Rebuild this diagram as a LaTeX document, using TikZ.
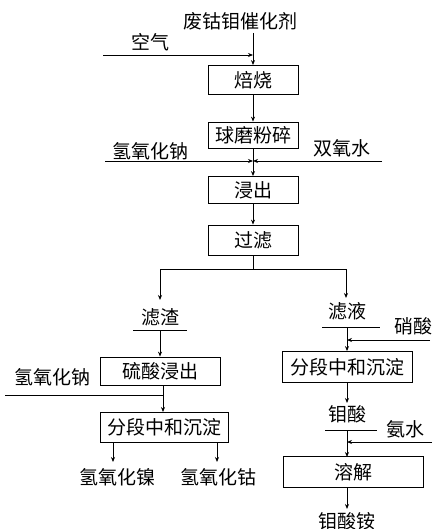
\documentclass[tikz,border=0pt]{standalone}
\usepackage{fontspec}
\setmainfont{Noto Sans CJK SC}
\usetikzlibrary{arrows.meta}
\begin{document}
\begin{tikzpicture}[x=1pt,y=-1pt,
  line width=0.8pt,
  >={Stealth[length=5pt,width=4pt]},
  pbox/.style={draw,minimum height=28pt,inner sep=0pt,font=\fontsize{19}{19}\selectfont},
  lbl/.style={inner sep=0pt,font=\fontsize{19}{19}\selectfont}]
\useasboundingbox (0,0) rectangle (432,529);
% main column
\node[lbl] (feed) at (240,21) {废钴钼催化剂};
\coordinate (feedB) at (253,33);
\node[lbl] (air) at (150,42) {空气};
\coordinate (airS) at (103,55);
\coordinate (airJ) at (253,55);
\node[pbox,minimum width=90pt,minimum height=29pt] (roast) at (253,80) {焙烧};
\node[pbox,minimum width=90pt,minimum height=26pt] (mill) at (253,135) {球磨粉碎};
\node[lbl] (naoh1) at (150,151) {氢氧化钠};
\node[lbl] (h2o2) at (342,148) {双氧水};
\coordinate (naohS) at (105,161);
\coordinate (h2o2S) at (382,161);
\coordinate (leachJ) at (253,161);
\node[pbox,minimum width=90pt,minimum height=27pt] (leach) at (253,190) {浸出};
\node[pbox,minimum width=90pt,minimum height=30pt] (filt) at (253,240) {过滤};
\coordinate (split) at (253,269);
\coordinate (splitL) at (160,269);
\coordinate (splitR) at (346,269);
\coordinate (resT) at (160,300);
\coordinate (filtrT) at (346,298);
% left branch
\node[lbl] (res) at (160,317) {滤渣};
\coordinate (resUL) at (133,330);
\coordinate (resUR) at (187,330);
\coordinate (resB) at (160,330);
\node[pbox,minimum width=120pt] (acid) at (160,371) {硫酸浸出};
\node[lbl] (naoh2) at (52,377) {氢氧化钠};
\coordinate (naoh2S) at (5,395);
\coordinate (naoh2J) at (163,395);
\coordinate (acidB) at (163,385);
\node[pbox,minimum width=128pt,minimum height=30pt] (precL) at (164,427) {分段中和沉淀};
\coordinate (precLT) at (163,412);
\node[lbl] (ni) at (117,477) {氢氧化镍};
\node[lbl] (co) at (218,477) {氢氧化钴};
\coordinate (niS) at (113,442);
\coordinate (niE) at (113,462);
\coordinate (coS) at (217,442);
\coordinate (coE) at (217,462);
% right branch
\node[lbl] (filtr) at (347,311) {滤液};
\coordinate (filtrUL) at (322,327);
\coordinate (filtrUR) at (380,327);
\coordinate (filtrB) at (347,327);
\node[lbl] (hno3) at (413,326) {硝酸};
\coordinate (hno3S) at (430,340);
\coordinate (hno3J) at (347,340);
\node[pbox,minimum width=130pt,minimum height=31pt] (precR) at (347,367) {分段中和沉淀};
\node[lbl] (moacid) at (347,414) {钼酸};
\coordinate (moT) at (347,403);
\coordinate (moUL) at (325,430);
\coordinate (moUR) at (377,430);
\coordinate (moB) at (347,430);
\node[lbl] (nh3) at (405,429) {氨水};
\coordinate (nh3S) at (432,442);
\coordinate (nh3J) at (347,442);
\node[pbox,minimum width=140pt,minimum height=31pt] (diss) at (353,472) {溶解};
\coordinate (dissT) at (347,457);
\coordinate (dissB) at (347,488);
\node[lbl] (amm) at (347,521) {钼酸铵};
\coordinate (ammT) at (347,509);
% connectors
\draw[->] (feedB) -- (roast);
\draw[->] (airS) -- (airJ);
\draw[->] (roast) -- (mill);
\draw (mill) -- (leachJ);
\draw[->] (naohS) -- (leachJ);
\draw[->] (h2o2S) -- (leachJ);
\draw[->] (leachJ) -- (leach);
\draw[->] (leach) -- (filt);
\draw (filt) -- (split);
\draw[->] (split) -- (splitL) -- (resT);
\draw[->] (split) -- (splitR) -- (filtrT);
\draw (resUL) -- (resUR);
\draw[->] (resB) -- (acid);
\draw (acidB) -- (naoh2J);
\draw (naoh2S) -- (naoh2J);
\draw[->] (naoh2J) -- (precLT);
\draw[->] (niS) -- (niE);
\draw[->] (coS) -- (coE);
\draw (filtrUL) -- (filtrUR);
\draw (filtrB) -- (hno3J);
\draw[->] (hno3S) -- (hno3J);
\draw[->] (hno3J) -- (precR);
\draw[->] (precR) -- (moT);
\draw (moUL) -- (moUR);
\draw (moB) -- (nh3J);
\draw[->] (nh3S) -- (nh3J);
\draw[->] (nh3J) -- (dissT);
\draw[->] (dissB) -- (ammT);
\end{tikzpicture}
\end{document}
